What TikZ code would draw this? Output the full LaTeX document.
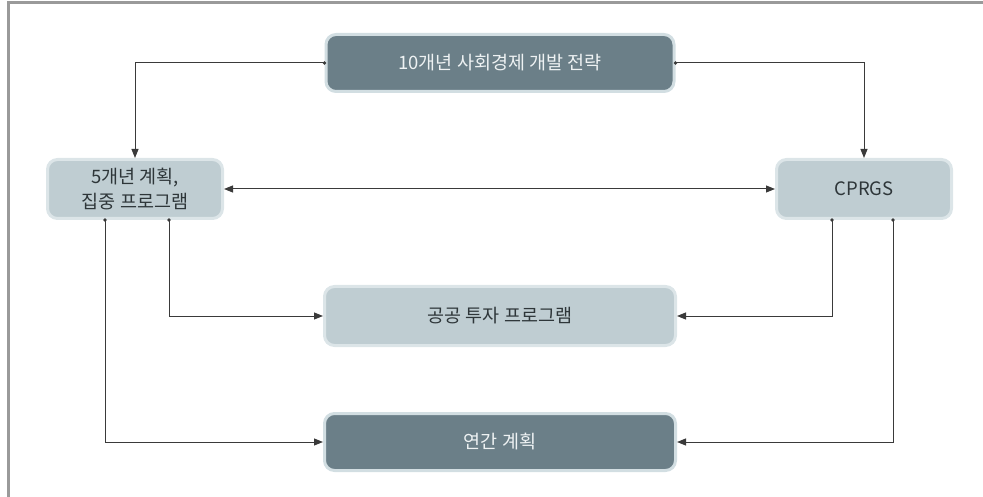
\documentclass[tikz,border=0pt]{standalone}
\usepackage{fontspec}
\setmainfont{Noto Sans CJK KR}
\usetikzlibrary{arrows.meta}
\definecolor{darkfill}{HTML}{6B7F88}
\definecolor{darkedge}{HTML}{D2DEE2}
\definecolor{lightfill}{HTML}{BFCDD2}
\definecolor{lightedge}{HTML}{DCE5E8}
\definecolor{txtdark}{HTML}{2E3639}
\definecolor{txtlight}{HTML}{EEF2F3}
\definecolor{framegray}{HTML}{9A9A9A}
\definecolor{linegray}{HTML}{3A3A3A}
\begin{document}
\begin{tikzpicture}[x=1pt,y=-1pt,
  box/.style={rounded corners=10pt, line width=3pt, inner sep=0pt, align=center, font=\fontsize{18.5}{25}\selectfont},
  darkbox/.style={box, fill=darkfill, draw=darkedge, text=txtlight},
  lightbox/.style={box, fill=lightfill, draw=lightedge, text=txtdark},
  conn/.style={draw=linegray, line width=1pt},
  arr/.style={-{Triangle[length=9pt,width=7pt]}},
  dblarr/.style={{Triangle[length=9pt,width=7pt]}-{Triangle[length=9pt,width=7pt]}},
  dotmark/.style={fill=linegray}
]
\useasboundingbox (0,0) rectangle (983,497);
\draw[framegray, line width=3pt] (8,497) -- (8,3) -- (983,3);

\node[darkbox, minimum width=348pt, minimum height=57pt] (top) at (500,63) {10개년 사회경제 개발 전략};
\node[lightbox, minimum width=175pt, minimum height=59pt] (left) at (135,189) {5개년 계획,\\집중 프로그램};
\node[lightbox, minimum width=175pt, minimum height=59pt] (right) at (864,189) {CPRGS};
\node[lightbox, minimum width=351pt, minimum height=59pt] (mid) at (500,316) {공공 투자 프로그램};
\node[darkbox, minimum width=351pt, minimum height=57pt] (bot) at (500,442) {연간 계획};

\draw[conn,arr] (top.west) -| (left.north);
\draw[conn,arr] (top.east) -| (right.north);
\draw[conn,dblarr] (left.east) -- (right.west);
\draw[conn,arr] ([xshift=34pt]left.south) |- (mid.west);
\draw[conn,arr] ([xshift=-30pt]left.south) |- (bot.west);
\draw[conn,arr] ([xshift=-32pt]right.south) |- (mid.east);
\draw[conn,arr] ([xshift=29pt]right.south) |- (bot.east);

\fill[dotmark] (top.west) circle (1.8pt);
\fill[dotmark] (top.east) circle (1.8pt);
\fill[dotmark] ([xshift=34pt]left.south) circle (1.8pt);
\fill[dotmark] ([xshift=-30pt]left.south) circle (1.8pt);
\fill[dotmark] ([xshift=-32pt]right.south) circle (1.8pt);
\fill[dotmark] ([xshift=29pt]right.south) circle (1.8pt);
\end{tikzpicture}
\end{document}
